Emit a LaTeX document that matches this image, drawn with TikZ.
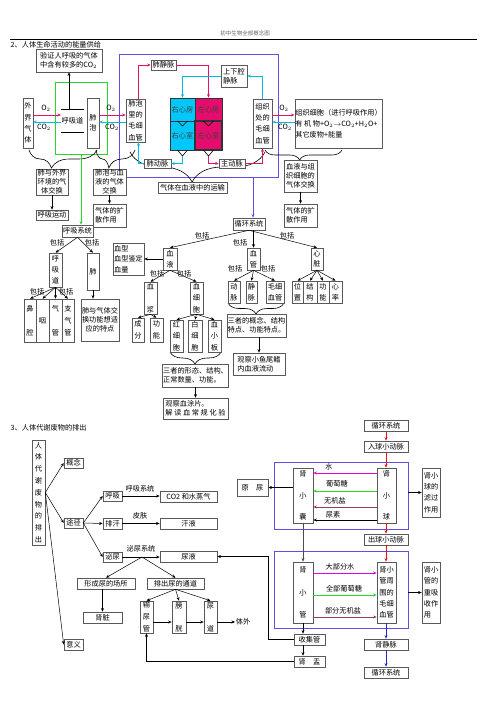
\documentclass[tikz,border=0pt]{standalone}
\usepackage{fontspec}
\setmainfont{Noto Sans CJK SC}
\usetikzlibrary{arrows.meta, decorations.pathreplacing, shadows}
\definecolor{artred}{RGB}{225,20,105}
\definecolor{veincyan}{RGB}{0,185,235}
\definecolor{heartcyan}{RGB}{0,200,250}
\definecolor{heartred}{RGB}{228,12,108}
\definecolor{loopblue}{RGB}{95,80,225}
\definecolor{loopgreen}{RGB}{40,215,40}
\definecolor{watermag}{RGB}{225,0,225}
\definecolor{saltbrown}{RGB}{150,60,100}
\definecolor{flowred}{RGB}{230,20,20}
\definecolor{flowblue}{RGB}{40,40,200}

\begin{document}
\begin{tikzpicture}[
    x=1pt, y=-1pt,
    every node/.style={align=center, font=\fontsize{7.2}{8.8}\selectfont, inner sep=0.5pt},
    box/.style={rectangle, draw=black!65, fill=white, line width=0.6pt, drop shadow={shadow xshift=0.7pt, shadow yshift=-0.7pt, fill=black!55, opacity=1}},
    sz/.style 2 args={minimum width=#1pt, minimum height=#2pt},
    heart/.style={rectangle, draw=black!80, line width=0.5pt, text=black!75, inner sep=0pt},
    arrow/.style={-{Stealth[length=3.6pt, width=3pt]}, line width=0.5pt},
    oarrow/.style={arrow, color=artred, line width=0.8pt},
    carrow/.style={arrow, color=veincyan, line width=0.8pt},
    brc/.style 2 args={decorate, decoration={brace, mirror, amplitude=#1pt, aspect=#2}, line width=0.6pt},
]
\useasboundingbox (0,0) rectangle (502,711);

% header
\node[text=black!60, font=\fontsize{5.5}{6}\selectfont] (hdr) at (245,33) {初中生物全部概念图};
\draw[line width=0.9pt] (10,39) -- (477,39);
\node[anchor=west] (t2) at (10,45) {2、人体生命活动的能量供给};

% loops and braces
\draw[loopgreen, line width=0.8pt] (55,82) rectangle (107,154);
\draw[loopblue, line width=0.8pt] (119,54) rectangle (278,177);
\draw[brc={18}{0.33}] (29,150) -- (97,150);
\draw[brc={18}{0.33}] (96,150) -- (135,150);
\draw[brc={30}{0.46}] (130,152) -- (265,152);
\draw[brc={10}{0.45}] (265,150) -- (342,150);
\draw[brc={12}{0.49}] (170,352) -- (221,352);
\draw[brc={11}{0.5}] (228,303) -- (284,303);

% gas exchange row
\node[box, sz={66}{23}, align=left] (yz) at (69,60.5) {验证人呼吸的气体\\中含有较多的CO$_2$};
\node[box, sz={10}{50}] (wj) at (28,123) {外\\[2.5pt]界\\[2.5pt]气\\[2.5pt]体};
\node[sz={21}{22}] (hxd) at (72.5,121) {呼吸道};
\node[box, sz={12}{50}] (fp) at (93,123) {肺\\[1.5pt]泡};
\node[box, sz={19}{43}] (fpmx) at (135.5,120.5) {肺泡\\[2.5pt]里的\\[2.5pt]毛细\\[2.5pt]血管};
\node[box, sz={25}{10}] (fjm) at (163.5,65) {肺静脉};
\node[box, sz={26}{22}, align=left] (sxq) at (234,76) {上下腔\\静脉};
\node[heart, fill=heartcyan, sz={25}{23}] (rxf) at (182.5,109.5) {右心房};
\node[heart, fill=heartred, sz={27}{23}] (zxf) at (208.5,109.5) {左心房};
\node[heart, fill=heartcyan, sz={25}{29}] (rxs) at (182.5,135.5) {右心室};
\node[heart, fill=heartred, sz={27}{29}, line width=1.3pt] (zxs) at (208.5,135.5) {左心室};
\node[box, sz={27}{9}] (fdm) at (157.5,163.5) {肺动脉};
\node[box, sz={26}{9}] (zdm) at (232,163.5) {主动脉};
\node[box, sz={19}{49}] (zzmx) at (262.5,123.5) {组织\\[2.5pt]处的\\[2.5pt]毛细\\[2.5pt]血管};
\node[box, sz={83}{49}, align=left] (zzxb) at (338.5,123.5) {组织细胞（进行呼吸作用）\\[2pt]有 机 物+O$_2$$\rightarrow$CO$_2$+H$_2$O+\\[2pt]其它废物+能量};

\node[box, sz={32}{26}] (xty) at (52,182) {肺与外界\\环境的气\\体交换};
\node[box, sz={33}{26}] (fpxy) at (109.5,182) {肺泡与血\\液的气体\\交换};
\node[box, sz={69}{11}] (ystx) at (192.5,187.5) {气体在血液中的运输};
\node[box, sz={33}{32}] (xyzz) at (300.5,176) {血液与组\\织细胞的\\气体交换};
\node[box, sz={32}{10}] (hxyd) at (52,215) {呼吸运动};
\node[box, sz={33}{23}, align=left] (ksl) at (109.5,215.5) {气体的扩\\散作用};
\node[box, sz={33}{23}, align=left] (ksr) at (300.5,215.5) {气体的扩\\散作用};

% respiratory system tree
\node[box, sz={31}{12}] (hxxt) at (77.5,231) {呼吸系统};
\node[box, sz={13}{34}] (hxd2) at (55.5,270) {呼\\[2pt]吸\\[2pt]道};
\node[box, sz={12}{37}] (fei) at (93,271.5) {肺};
\node[box, sz={12}{43}] (bq) at (30,320.5) {鼻\\[15pt]腔};
\node[box, sz={13}{43}] (yan) at (42.5,320.5) {咽};
\node[box, sz={13}{43}] (qg) at (55.5,320.5) {气\\[15pt]管};
\node[box, sz={12}{43}] (zqg) at (68,320.5) {支\\[3pt]气\\[3pt]管};
\node[box, sz={38}{42}] (ftz) at (100,320) {肺与气体交\\换功能想适\\应的特点};
\node (bk1) at (57,243) {包括};
\node (bk2) at (92,243) {包括};
\node (bk3) at (37,292) {包括};
\node (bk4) at (66,292) {包括};

% circulatory system tree
\node[box, sz={32}{12}] (xhxt) at (249,224) {循环系统};
\node[box, sz={14}{22}] (xy) at (170,259) {血\\[2pt]液};
\node[box, sz={31}{32}, align=left] (xx) at (128.5,259) {血型\\[2pt]血型鉴定\\[2pt]血量};
\node[box, sz={13}{32}] (xj) at (150.5,298) {血\\[14pt]浆};
\node[box, sz={13}{32}] (xxb) at (196.5,298) {血\\[2.5pt]细\\[2.5pt]胞};
\node[box, sz={12}{24}] (cf) at (138,330) {成\\[3pt]分};
\node[box, sz={13}{24}] (gn) at (156.5,330) {功\\[3pt]能};
\node[box, sz={13}{32}] (hxb) at (176.5,336) {红\\[2.5pt]细\\[2.5pt]胞};
\node[box, sz={14}{32}] (bxb) at (195,336) {白\\[2.5pt]细\\[2.5pt]胞};
\node[box, sz={13}{32}] (xxb2) at (214.5,336) {血\\[2.5pt]小\\[2.5pt]板};
\node[box, sz={65}{23}, align=left] (xt1) at (195.5,375.5) {三者的形态、结构、\\正常数量、功能。};
\node[box, sz={65}{21}, align=left] (gc1) at (195.5,408.5) {观察血涂片。\\解 读 血 常 规 化 验};
\node[box, sz={13}{22}] (xg) at (253.5,259) {血\\[2pt]管};
\node[box, sz={12}{22}] (dm) at (234,292) {动\\[2pt]脉};
\node[box, sz={11}{22}] (jm) at (251.5,292) {静\\[2pt]脉};
\node[box, sz={18}{22}] (mxxg) at (275,292) {毛细\\[2pt]血管};
\node[box, sz={58}{23}, align=left] (xt2) at (256.5,325.5) {三者的概念、结构\\特点、功能特点。};
\node[box, sz={52}{22}, align=left] (gc2) at (259,364) {观察小鱼尾鳍\\内血液流动};
\node[box, sz={12}{22}] (xz) at (317,259) {心\\[2pt]脏};
\node[box, sz={11}{22}] (wz) at (297.5,292) {位\\[2pt]置};
\node[box, sz={14}{22}] (jg) at (310,292) {结\\[2pt]构};
\node[box, sz={12}{22}] (gn2) at (323,292) {功\\[2pt]能};
\node[box, sz={13}{22}] (xl) at (335.5,292) {心\\[2pt]率};
\node (bk5) at (202,236) {包括};
\node (bk6) at (240,243) {包括};
\node (bk7) at (287,236) {包括};
\node (bk8) at (157,274) {包括};
\node (bk9) at (184,274) {包括};
\node (bk10) at (235,269) {包括};
\node (bk11) at (268,269) {包括};

% connectors, gas exchange
\draw[arrow] (hxd.north -| yz.south) -- (yz.south);
\draw[line width=0.8pt] (hxd.north west) -- (hxd.north east) (hxd.south west) -- (hxd.south east);
\draw[oarrow] (wj.east |- 0,115) -- (hxd.west |- 0,115);
\draw[carrow] (hxd.west |- 0,122) -- (wj.east |- 0,122);
\draw[oarrow] (fp.east |- 0,115) -- (fpmx.west |- 0,115);
\draw[carrow] (fpmx.west |- 0,122) -- (fp.east |- 0,122);
\draw[oarrow] (zzmx.east |- 0,115) -- (zzxb.west |- 0,115);
\draw[carrow] (zzxb.west |- 0,122) -- (zzmx.east |- 0,122);
\node (o2a) at (46,108) {O$_2$};
\node (co2a) at (44,127) {CO$_2$};
\node (o2b) at (111,108) {O$_2$};
\node (co2b) at (112,127) {CO$_2$};
\node (o2c) at (284,108) {O$_2$};
\node (co2c) at (285,127) {CO$_2$};

% blood vessels round the heart
\draw[oarrow] ([xshift=3pt]fpmx.north) |- (fjm.west);
\draw[oarrow] (fjm.east) -| (zxf.north);
\draw[carrow] (zzmx.north) |- (sxq.east);
\draw[carrow] (sxq.west) -| (rxf.north);
\coordinate (rv) at (182.5,156);
\coordinate (lv) at (208.5,156);
\draw[line width=0.6pt] (177.5,150) -- (rv) -- (187.5,150);
\draw[line width=0.6pt] (203.5,150) -- (lv) -- (213.5,150);
\draw[line width=0.6pt] (177.5,121) -- (182.5,126) -- (187.5,121);
\draw[line width=0.6pt] (203.5,121) -- (208.5,126) -- (213.5,121);
\draw[carrow] (rv) |- (fdm.east);
\draw[carrow] (fdm.west) -| ([xshift=3pt]fpmx.south);
\draw[oarrow] (lv) |- (zdm.west);
\draw[oarrow] (zdm.east) -| (zzmx.south);
\draw[arrow, loopblue, line width=0.8pt] (253,177) -- (xhxt.north -| 253,0);
\draw[arrow, loopgreen, line width=0.8pt] (81,154) -- (hxxt.north -| 81,0);

% connectors, trees
\draw[arrow] (xty.south) -- (hxyd.north);
\draw[arrow] (fpxy.south) -- (ksl.north);
\draw[arrow] (xyzz.south) -- (ksr.north);
\draw[arrow] (hxxt.south) -- (hxd2.north);
\draw[arrow] (hxxt.south) -- (fei.north);
\draw[arrow] (hxd2.south) -- (bq.north);
\draw[arrow] (hxd2.south) -- (yan.north);
\draw[arrow] (hxd2.south) -- (qg.north);
\draw[arrow] (hxd2.south) -- (zqg.north);
\draw[arrow] (fei.south) -- (ftz.north -| fei.south);
\draw[arrow] (xhxt.south) -- (xy.north);
\draw[arrow] (xg.north |- xhxt.south) -- (xg.north);
\draw[arrow] (xhxt.south) -- (xz.north);
\draw[arrow] (xy.west) -- (xx.east);
\draw[arrow] (xy.south) -- (xj.north);
\draw[arrow] (xy.south) -- (xxb.north);
\draw[arrow] (xj.south) -- (cf.north);
\draw[arrow] (xj.south) -- (gn.north);
\draw[arrow] (xxb.south) -- (hxb.north);
\draw[arrow] (xxb.south) -- (bxb.north);
\draw[arrow] (xxb.south) -- (xxb2.north);
\draw[arrow] (xt1.south) -- (gc1.north);
\draw[arrow] (xg.south) -- (dm.north);
\draw[arrow] (xg.south) -- (jm.north);
\draw[arrow] (xg.south) -- (mxxg.north);
\draw[arrow] (gc2.north |- xt2.south) -- (gc2.north);
\draw[arrow] (xz.south) -- (wz.north);
\draw[arrow] (xz.south) -- (jg.north);
\draw[arrow] (xz.south) -- (gn2.north);
\draw[arrow] (xz.south) -- (xl.north);

% section 3
\node[anchor=west] (t3) at (10,428) {3、人体代谢废物的排出};
\draw[loopblue, line width=0.8pt] (274,462) rectangle (408,529);
\draw[loopblue, line width=0.8pt] (274,551) rectangle (408,628);

\node[box, sz={13}{105}] (rtpc) at (38.5,492.5) {人\\[3pt]体\\[3pt]代\\[3pt]谢\\[3pt]废\\[3pt]物\\[3pt]的\\[3pt]排\\[3pt]出};
\node[box, sz={19}{10}] (gn3) at (73.5,463) {概念};
\node[box, sz={19}{10}] (tj) at (73.5,523) {途径};
\node[box, sz={19}{11}] (yy) at (73.5,644.5) {意义};
\node[box, sz={19}{10}] (hx) at (112.5,496) {呼吸};
\node[box, sz={19}{11}] (ph) at (112.5,523.5) {排汗};
\node[box, sz={19}{10}] (mn) at (112.5,557) {泌尿};
\node[box, sz={57}{11}] (co2) at (188.5,496.5) {CO2 和水蒸气};
\node[box, sz={57}{11}] (hy) at (188.5,523.5) {汗液};
\node[box, sz={57}{11}] (ny) at (188.5,556.5) {尿液};
\node (lhx) at (140,489) {呼吸系统};
\node (lpf) at (140,516) {皮肤};
\node (lmn) at (141,549) {泌尿系统};
\node[box, sz={58}{11}] (cs) at (106,583.5) {形成尿的场所};
\node[box, sz={57}{11}] (td) at (175.5,583.5) {排出尿的通道};
\node[box, sz={39}{11}] (szang) at (102.5,617.5) {肾脏};
\node[box, sz={13}{32}] (sng) at (146.5,617) {输\\[3pt]尿\\[3pt]管};
\node[box, sz={14}{32}] (pg) at (179,617) {膀\\[14pt]胱};
\node[box, sz={13}{32}] (nd) at (210.5,617) {尿\\[14pt]道};
\node (tw) at (243,622) {体外};

\node[box, sz={44}{11}] (xhxt2) at (386,426) {循环系统};
\node[box, sz={44}{11}] (rq) at (386,446.5) {入球小动脉};
\node[box, sz={20}{55}] (sxn) at (303,495.5) {肾\\[13pt]小\\[13pt]囊};
\node[box, sz={19}{55}] (sxq2) at (386.5,495.5) {肾\\[13pt]小\\[13pt]球};
\node[box, sz={18}{49}] (lg) at (431,492.5) {肾小\\[2.5pt]球的\\[2.5pt]滤过\\[2.5pt]作用};
\node[box, sz={31}{17}] (yn) at (252.5,487.5) {原\quad 尿};
\node[box, sz={44}{11}] (cq) at (386,539.5) {出球小动脉};
\node[box, sz={20}{61}] (sxg) at (303,592.5) {肾\\[13.5pt]小\\[13.5pt]管};
\node[box, sz={19}{61}] (mxxg2) at (386.5,592.5) {肾小\\[2.5pt]管周\\[2.5pt]围的\\[2.5pt]毛细\\[2.5pt]血管};
\node[box, sz={18}{61}, align=left] (cxs) at (431,592.5) {肾小\\[2.5pt]管的\\[2.5pt]重吸\\[2.5pt]收作\\[2.5pt]用};
\node[box, sz={31}{11}] (sjg) at (309.5,639.5) {收集管};
\node[box, sz={31}{11}] (sy) at (309.5,661.5) {肾\quad 盂};
\node[box, sz={44}{11}] (sjm) at (386,644.5) {肾静脉};
\node[box, sz={44}{11}] (xhxt3) at (386,672.5) {循环系统};

\node (lsh) at (329,467) {水};
\node (lptt) at (337,484) {葡萄糖};
\node (lwjy) at (335,501) {无机盐};
\node (lns) at (333,515) {尿素};
\node (ldbf) at (340,567) {大部分水};
\node (lqb) at (344,589) {全部葡萄糖};
\node (lbf) at (343,611) {部分无机盐};

% connectors, section 3
\draw[arrow] (rtpc.east) -- (gn3.west);
\draw[arrow] (rtpc.east) -- (tj.west);
\draw[arrow] (rtpc.east) -- (yy.west);
\draw[arrow] (tj.east) -- (hx.west);
\draw[arrow] (tj.east) -- (ph.west);
\draw[arrow] (tj.east) -- (mn.west);
\draw[arrow] (hx.east) -- (co2.west |- hx.east);
\draw[arrow] (ph.east) -- (hy.west);
\draw[arrow] (mn.east) -- (ny.west |- mn.east);
\coordinate (mnfork) at (142,557);
\draw[arrow] (mnfork) -- (cs.north);
\draw[arrow] (mnfork) -- (td.north);
\draw[arrow] (cs.south -| szang.north) -- (szang.north);
\draw[arrow] (td.south) -- (sng.north);
\draw[arrow] (td.south) -- (pg.north);
\draw[arrow] (td.south) -- (nd.north);
\draw[arrow] (sng.east |- 0,622) -- (pg.west |- 0,622);
\draw[arrow] (pg.east |- 0,622) -- (nd.west |- 0,622);
\draw[arrow] (nd.east |- 0,622) -- (tw.west);

\draw[arrow, watermag, line width=0.7pt] (sxq2.west |- 0,473) -- (sxn.east |- 0,473);
\draw[arrow, loopgreen, line width=0.7pt] (sxq2.west |- 0,491) -- (sxn.east |- 0,491);
\draw[arrow, saltbrown, line width=0.9pt] (sxq2.west |- 0,507) -- (sxn.east |- 0,507);
\draw[arrow, line width=0.7pt] (sxq2.west |- 0,520) -- (sxn.east |- 0,520);
\draw[arrow, watermag, line width=0.7pt] (sxg.east |- 0,573) -- (mxxg2.west |- 0,573);
\draw[arrow, loopgreen, line width=0.7pt] (sxg.east |- 0,595) -- (mxxg2.west |- 0,595);
\draw[arrow, saltbrown, line width=0.9pt] (sxg.east |- 0,617) -- (mxxg2.west |- 0,617);

\draw[arrow] (sxn.west |- yn.east) -- (yn.east);
\draw[arrow] (lg.west -| 408,0) -- (lg.west);
\draw[arrow] (cxs.west -| 408,0) -- (cxs.west);
\draw[arrow, flowred, line width=0.7pt] (xhxt2.south) -- (rq.north);
\draw[arrow, flowred, line width=0.7pt] (rq.south) -- (rq.south |- sxq2.north);
\draw[arrow, flowred, line width=0.7pt] (cq.north |- sxq2.south) -- (cq.north);
\draw[arrow, flowred, line width=0.7pt] (cq.south) -- (cq.south |- mxxg2.north);
\draw[arrow, flowblue, line width=0.7pt] (mxxg2.south -| sjm.north) -- (sjm.north);
\draw[arrow, flowblue, line width=0.7pt] (sjm.south) -- (xhxt3.north);
\draw[arrow, black!70] (sxn.south) -- (sxn.south |- sxg.north);
\draw[arrow] (sxg.south) -- (sxg.south |- sjg.north);
\draw[arrow] (sjg.south -| sxg.south) -- (sy.north -| sxg.south);
\draw[arrow] (sjg.west) -- (268,639.5) |- (ny.east);
\draw[arrow] (sy.west) -| (sng.south);
\end{tikzpicture}
\end{document}
